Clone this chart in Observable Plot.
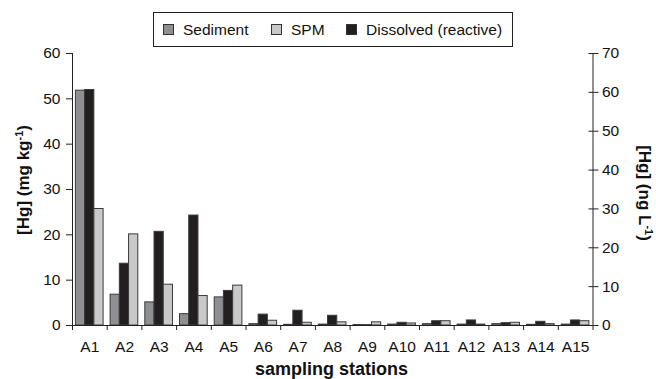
<!DOCTYPE html>
<html><head><meta charset="utf-8">
<script src="https://cdn.jsdelivr.net/npm/d3@7"></script>
<script src="https://cdn.jsdelivr.net/npm/@observablehq/plot@0.6"></script>
<style>
body{margin:0;background:#fff;font-family:"Liberation Sans",Arial,sans-serif;}
#wrap{position:relative;width:656px;height:379px;}
#legend{position:absolute;left:153px;top:12px;width:358px;height:33px;border:1px solid #222;background:#fff;font-size:15.5px;color:#111;}
#legend .item{position:absolute;top:0;height:33px;display:flex;align-items:center;white-space:nowrap;}
#legend .sw{display:inline-block;width:9px;height:9px;border:1px solid #333;margin-right:9px;}
</style></head>
<body><div id="wrap"><div id="legend"></div></div>
<script>
const stations = ["A1","A2","A3","A4","A5","A6","A7","A8","A9","A10","A11","A12","A13","A14","A15"];
// left axis, mg kg-1
const sediment = [51.8, 6.8, 5.1, 2.5, 6.2, 0.3, 0.15, 0.2, 0.1, 0.2, 0.3, 0.2, 0.3, 0.15, 0.2];
const spm = [25.7, 20.1, 9.0, 6.5, 8.8, 1.05, 0.6, 0.7, 0.7, 0.45, 0.95, 0.2, 0.6, 0.3, 0.95];
// right axis, ng L-1
const dissolved = [60.6, 15.9, 24.1, 28.3, 8.9, 2.8, 3.8, 2.5, 0.1, 0.7, 1.1, 1.3, 0.6, 0.95, 1.3];
const seriesNames = ["Sediment", "SPM", "Dissolved (reactive)"];
const seriesColors = ["#8f8f93", "#c9c9c9", "#231f20"];
const leftTicks = [0, 10, 20, 30, 40, 50, 60];
const rightTicks = [0, 10, 20, 30, 40, 50, 60, 70];

const k = 60 / 70; // right-axis units -> left-axis units
const slotOf = {"Sediment": 0, "Dissolved (reactive)": 1, "SPM": 2};
const rows = stations.flatMap((s, i) => [
  {station: s, i: i + 1, series: "Sediment", value: sediment[i]},
  {station: s, i: i + 1, series: "Dissolved (reactive)", value: dissolved[i] * k},
  {station: s, i: i + 1, series: "SPM", value: spm[i]}
]);
const off = 0.098, bw = 0.266;
const fontFamily = '"Liberation Sans", Arial, sans-serif';

const chart = Plot.plot({
  width: 656, height: 379,
  marginLeft: 72, marginRight: 63.5, marginTop: 53, marginBottom: 54,
  style: {fontFamily, fontSize: "15.5px", color: "#111", background: "transparent"},
  x: {domain: [0.5, 15.5]},
  y: {domain: [0, 60]},
  color: {domain: seriesNames, range: seriesColors},
  marks: [
    Plot.rect(rows, {
      x1: d => d.i - 0.5 + off + slotOf[d.series] * bw,
      x2: d => d.i - 0.5 + off + (slotOf[d.series] + 1) * bw,
      y1: 0, y2: "value", fill: "series", stroke: "#3a3a3a", strokeWidth: 1
    }),
    Plot.ruleY([0], {stroke: "#222"}),
    Plot.ruleX([0.5], {stroke: "#222"}),
    Plot.ruleX([15.5], {stroke: "#222"}),
    Plot.axisY(leftTicks, {anchor: "left", tickSize: 6, tickPadding: 6, label: null, stroke: "#222"}),
    Plot.axisY(rightTicks.map(v => v * k), {anchor: "right", tickSize: 5, tickPadding: 4, label: null, tickFormat: d => String(Math.round(d / k)), stroke: "#222"}),
    Plot.axisY(rightTicks.map(v => v * k), {anchor: "right", tickSize: -5, label: null, tickFormat: () => "", stroke: "#222"}),
    Plot.axisX(d3.range(0.5, 16, 1), {anchor: "bottom", tickSize: 5, label: null, tickFormat: () => "", stroke: "#222"}),
    Plot.axisX(d3.range(1, 16), {anchor: "bottom", tickSize: 0, tickPadding: 15, label: null, tickFormat: d => stations[d - 1]})
  ]
});
document.getElementById("wrap").insertBefore(chart, document.getElementById("legend"));

// axis titles
const svg = d3.select(chart);
function title(x, y, rot, size, parts) {
  const t = svg.append("text")
    .attr("transform", `translate(${x},${y}) rotate(${rot})`)
    .attr("text-anchor", "middle")
    .attr("font-family", fontFamily)
    .attr("font-weight", "bold")
    .attr("font-size", size)
    .attr("fill", "#111");
  parts.forEach(([s, sup]) => {
    const ts = t.append("tspan").text(s);
    if (sup) ts.attr("baseline-shift", "super").attr("font-size", 11);
  });
}
title(29, 180, -90, 17, [["[Hg] (mg kg"], ["-1", true], [")"]]);
title(639, 193, 90, 17, [["[Hg] (ng L"], ["-1", true], [")"]]);
title(331.5, 375, 0, 18, [["sampling stations"]]);

// legend
const legendPos = [9, 117, 192];
const lg = d3.select("#legend");
seriesNames.forEach((name, j) => {
  const it = lg.append("div").attr("class", "item").style("left", legendPos[j] + "px");
  it.append("span").attr("class", "sw").style("background", seriesColors[j]);
  it.append("span").text(name);
});
</script>
</body></html>
